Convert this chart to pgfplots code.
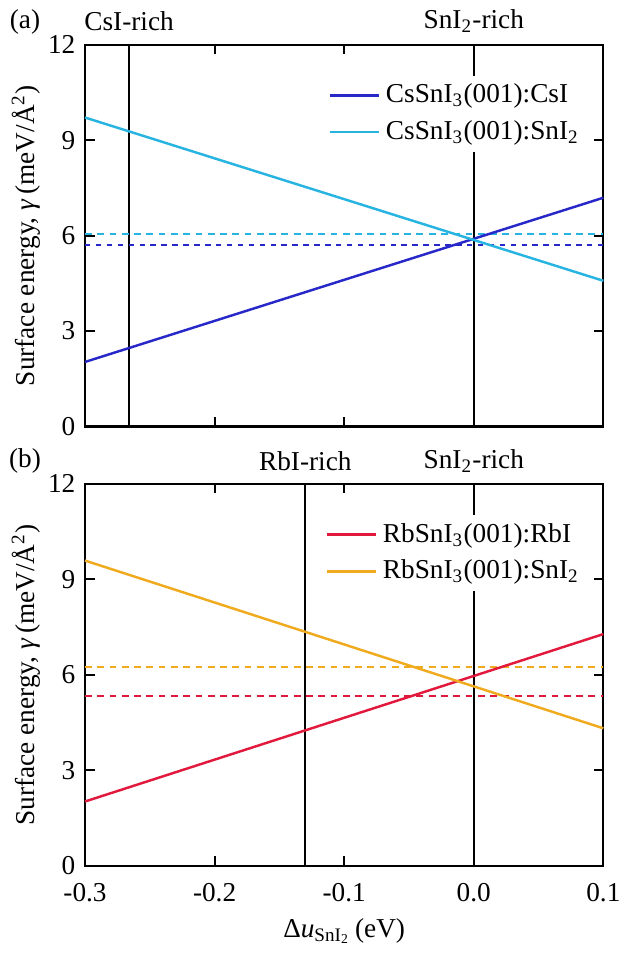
\documentclass[border=0pt]{standalone}
\usepackage{fontspec}
\setmainfont{Liberation Serif}
\usepackage{pgfplots}
\pgfplotsset{compat=1.18}
\definecolor{cdark}{RGB}{40,40,200}
\definecolor{clight}{RGB}{40,180,225}
\definecolor{cred}{RGB}{225,25,60}
\definecolor{corange}{RGB}{240,170,30}
\pgfplotsset{mystyle/.style={
  scale only axis, width=190pt, height=140pt,
  xmin=-0.3, xmax=0.1, ymin=0, ymax=12,
  xtick={-0.3,-0.2,-0.1,0,0.1}, ytick={0,3,6,9,12},
  tick align=inside, tick pos=both,
  major tick length=3.5pt,
  axis line style={line width=0.8pt},
  every tick/.style={black, line width=0.8pt},
  /pgf/number format/assume math mode=true,
  xticklabel style={yshift=-3pt, /pgf/number format/.cd, fixed, fixed zerofill, precision=1},
  yticklabel style={/pgf/number format/.cd, fixed},
  ylabel={Surface energy, \textit{γ}\,(meV/Å\textsuperscript{2})},
  ylabel style={yshift=-4pt},
  xlabel style={yshift=1pt},
  legend style={draw=none, fill=white, at={(rel axis cs:0.97,0.92)}, anchor=north east,
    inner sep=1pt, row sep=1pt,
    legend image code/.code={\draw[##1] (0pt,0pt) -- (18pt,0pt);}},
  legend cell align=left,
  clip=false,
}}
\begin{document}
\begin{tikzpicture}
\begin{axis}[mystyle, at={(0,161pt)}, xticklabels={}]
\addplot[black, line width=0.8pt, forget plot] coordinates {(-0.266,0) (-0.266,12)};
\addplot[black, line width=0.8pt, forget plot] coordinates {(0,0) (0,12)};
\addplot[clight, line width=0.8pt, dash pattern=on 2.5pt off 2pt, forget plot] coordinates {(-0.3,6.05) (0.1,6.05)};
\addplot[cdark, line width=0.8pt, dash pattern=on 2pt off 2pt, forget plot] coordinates {(-0.3,5.71) (0.1,5.71)};
\addplot[cdark, line width=0.9pt] coordinates {(-0.3,2.03) (0.1,7.19)};
\addplot[clight, line width=0.9pt] coordinates {(-0.3,9.71) (0.1,4.58)};
\legend{CsSnI\textsubscript{3}(001):CsI, CsSnI\textsubscript{3}(001):SnI\textsubscript{2}}
\node at (rel axis cs:0,1) [xshift=-22pt, yshift=8.5pt] {(a)};
\node at (axis cs:-0.266,12) [yshift=8.5pt] {CsI-rich};
\node at (axis cs:0,12) [yshift=8.5pt] {SnI\textsubscript{2}-rich};
\end{axis}
\begin{axis}[mystyle, at={(0,0)}, xlabel={Δ\textit{u}\textsubscript{SnI\textsubscript{2}}\,(eV)}]
\addplot[black, line width=0.8pt, forget plot] coordinates {(-0.13,0) (-0.13,12)};
\addplot[black, line width=0.8pt, forget plot] coordinates {(0,0) (0,12)};
\addplot[corange, line width=0.8pt, dash pattern=on 2.5pt off 2pt, forget plot] coordinates {(-0.3,6.25) (0.1,6.25)};
\addplot[cred, line width=0.8pt, dash pattern=on 2.5pt off 2pt, forget plot] coordinates {(-0.3,5.34) (0.1,5.34)};
\addplot[cred, line width=0.9pt] coordinates {(-0.3,2.02) (0.1,7.28)};
\addplot[corange, line width=0.9pt] coordinates {(-0.3,9.59) (0.1,4.32)};
\legend{RbSnI\textsubscript{3}(001):RbI, RbSnI\textsubscript{3}(001):SnI\textsubscript{2}}
\node at (rel axis cs:0,1) [xshift=-22pt, yshift=8.5pt] {(b)};
\node at (axis cs:-0.13,12) [yshift=8.5pt] {RbI-rich};
\node at (axis cs:0,12) [yshift=8.5pt] {SnI\textsubscript{2}-rich};
\end{axis}
\end{tikzpicture}
\end{document}
